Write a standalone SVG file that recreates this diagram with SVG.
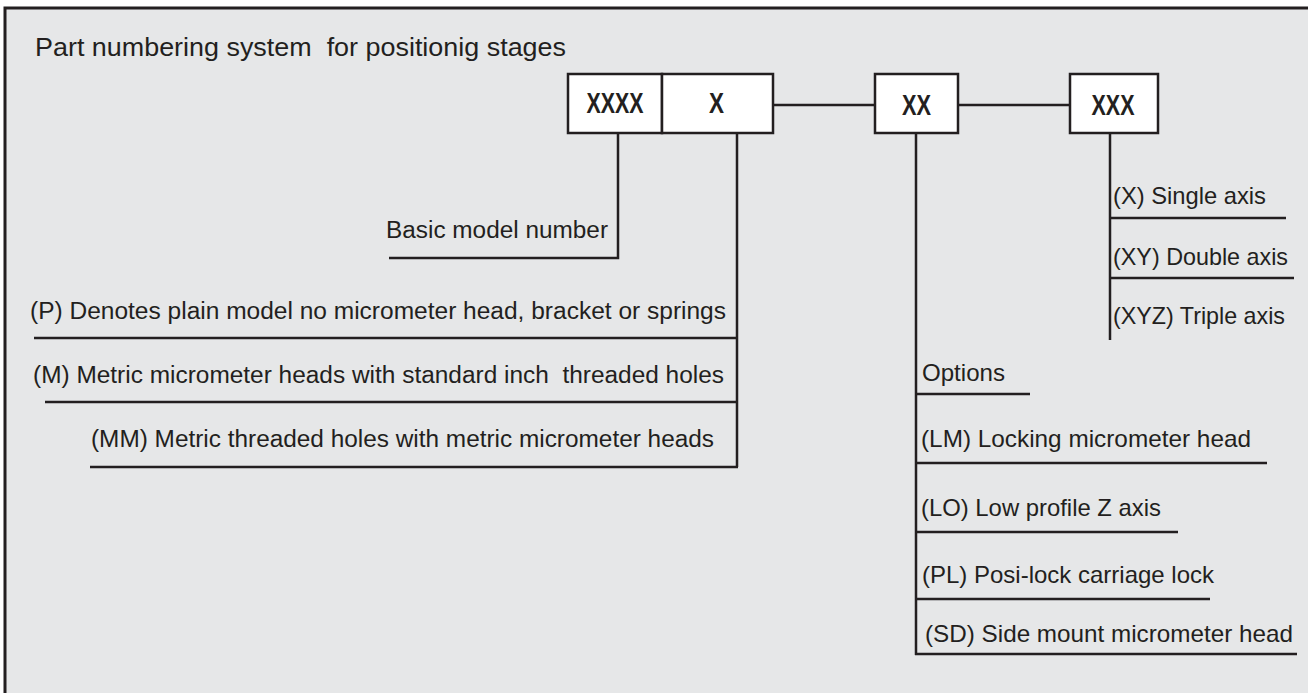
<svg xmlns="http://www.w3.org/2000/svg" width="1308" height="693" viewBox="0 0 1308 693" xml:space="preserve">
<style>
.frame{fill:#e6e7e8;stroke:#231f20;stroke-width:3}
.box{fill:#ffffff;stroke:#231f20;stroke-width:2.5}
.ln{stroke:#231f20;stroke-width:2.5;fill:none}
.t{font-family:"Liberation Sans",Arial,sans-serif;fill:#231f20;white-space:pre}
.lt{font-size:23.5px}
.rt{font-size:24px}
.bx{font-family:"Liberation Sans",Arial,sans-serif;font-weight:bold;font-size:30px;fill:#231f20;text-anchor:middle}
</style>
<rect x="0" y="0" width="1308" height="693" fill="#ffffff"/>
<rect class="frame" x="5" y="8" width="1320" height="720"/>
<text class="t" x="35" y="56" font-size="25" textLength="531" lengthAdjust="spacingAndGlyphs">Part numbering system  for positionig stages</text>
<g id="connectors">
<line class="ln" x1="773" y1="105" x2="875" y2="105"/>
<line class="ln" x1="958" y1="105" x2="1070" y2="105"/>
<polyline class="ln" points="618,133 618,258 389,258"/>
<line class="ln" x1="737" y1="133" x2="737" y2="467"/>
<line class="ln" x1="34" y1="338" x2="737" y2="338"/>
<line class="ln" x1="45" y1="402" x2="737" y2="402"/>
<line class="ln" x1="90" y1="467" x2="738" y2="467"/>
<line class="ln" x1="916" y1="133" x2="916" y2="655"/>
<line class="ln" x1="916" y1="394" x2="1030" y2="394"/>
<line class="ln" x1="916" y1="463" x2="1267" y2="463"/>
<line class="ln" x1="916" y1="532" x2="1178" y2="532"/>
<line class="ln" x1="916" y1="599" x2="1210" y2="599"/>
<line class="ln" x1="915" y1="654" x2="1297" y2="654"/>
<line class="ln" x1="1110" y1="133" x2="1110" y2="340"/>
<line class="ln" x1="1110" y1="218" x2="1286" y2="218"/>
<line class="ln" x1="1110" y1="278" x2="1294" y2="278"/>
</g>
<g id="node-xxxx">
<rect class="box" x="568" y="74" width="94" height="59"/>
<text class="bx" x="615" y="113" textLength="57" lengthAdjust="spacingAndGlyphs">XXXX</text>
</g>
<g id="node-x">
<rect class="box" x="662" y="74" width="111" height="59"/>
<text class="bx" x="716.5" y="113" textLength="15" lengthAdjust="spacingAndGlyphs">X</text>
</g>
<g id="node-xx">
<rect class="box" x="875" y="74" width="83" height="59"/>
<text class="bx" x="916.5" y="115" textLength="29" lengthAdjust="spacingAndGlyphs">XX</text>
</g>
<g id="node-xxx">
<rect class="box" x="1070" y="74" width="88" height="59"/>
<text class="bx" x="1113" y="115" textLength="43" lengthAdjust="spacingAndGlyphs">XXX</text>
</g>
<g id="labels-model">
<text class="t lt" x="386" y="238" textLength="222" lengthAdjust="spacingAndGlyphs">Basic model number</text>
<text class="t lt" x="30" y="319" textLength="696" lengthAdjust="spacingAndGlyphs">(P) Denotes plain model no micrometer head, bracket or springs</text>
<text class="t lt" x="33" y="383" textLength="691" lengthAdjust="spacingAndGlyphs">(M) Metric micrometer heads with standard inch  threaded holes</text>
<text class="t lt" x="91" y="447" textLength="623" lengthAdjust="spacingAndGlyphs">(MM) Metric threaded holes with metric micrometer heads</text>
</g>
<g id="labels-axis">
<text class="t rt" x="1113" y="204" textLength="153" lengthAdjust="spacingAndGlyphs">(X) Single axis</text>
<text class="t rt" x="1113" y="265" textLength="175" lengthAdjust="spacingAndGlyphs">(XY) Double axis</text>
<text class="t rt" x="1113" y="324" textLength="172" lengthAdjust="spacingAndGlyphs">(XYZ) Triple axis</text>
</g>
<g id="labels-options">
<text class="t rt" x="922" y="381" textLength="83" lengthAdjust="spacingAndGlyphs">Options</text>
<text class="t rt" x="921" y="447" textLength="330" lengthAdjust="spacingAndGlyphs">(LM) Locking micrometer head</text>
<text class="t rt" x="921" y="516" textLength="240" lengthAdjust="spacingAndGlyphs">(LO) Low profile Z axis</text>
<text class="t rt" x="922" y="583" textLength="292" lengthAdjust="spacingAndGlyphs">(PL) Posi-lock carriage lock</text>
<text class="t rt" x="925" y="642" textLength="368" lengthAdjust="spacingAndGlyphs">(SD) Side mount micrometer head</text>
</g>
</svg>
